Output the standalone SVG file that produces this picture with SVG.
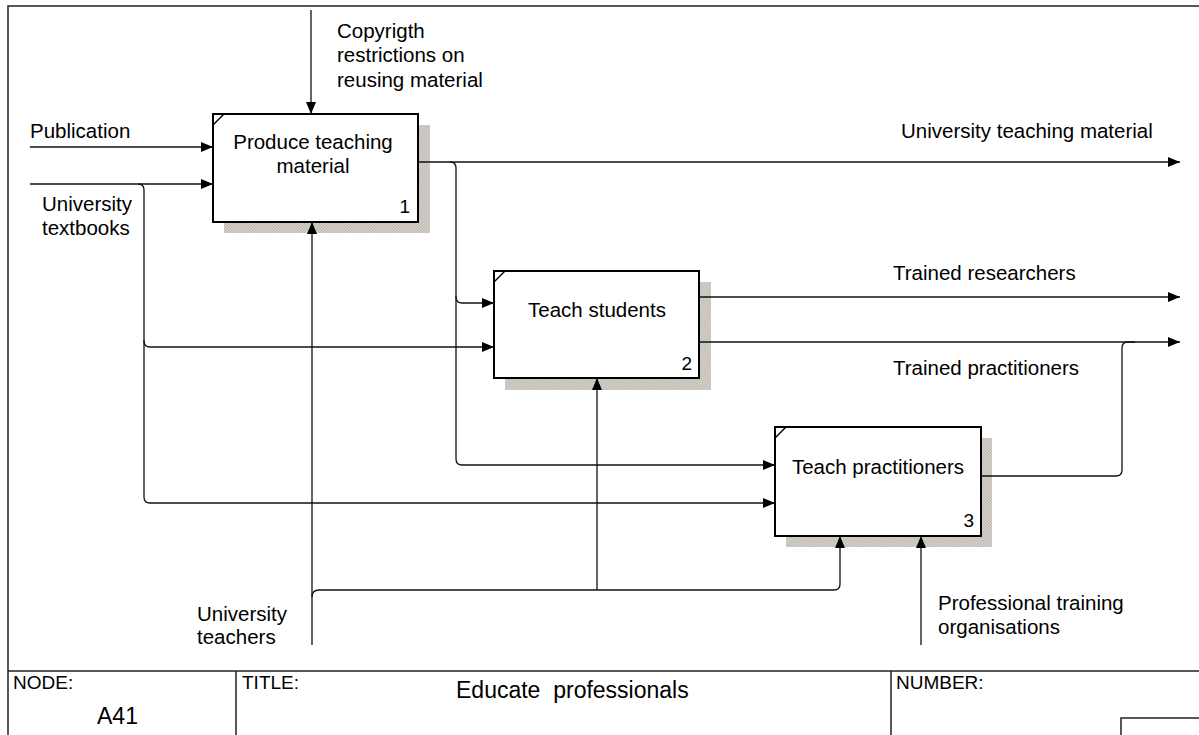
<svg xmlns="http://www.w3.org/2000/svg" width="1199" height="735" viewBox="0 0 1199 735">
<style>
text{font-family:"Liberation Sans",Arial,sans-serif;fill:#000}
.lbl{font-size:20.5px}
.ttl{font-size:20.5px}
.box{fill:#fff;stroke:#000;stroke-width:2}
.shadow{fill:url(#hatch)}
.con{fill:none;stroke:#111;stroke-width:1.3}
.frame{fill:none;stroke:#222;stroke-width:1.5}
.num{font-size:19px}
.foot{font-size:19px}
</style>
<defs>
<marker id="arr" viewBox="0 0 12 10" refX="12" refY="5" markerWidth="12" markerHeight="10" markerUnits="userSpaceOnUse" orient="auto">
<path d="M0,0 L12,5 L0,10 Z" fill="#000"/>
</marker>
<pattern id="hatch" width="3" height="3" patternUnits="userSpaceOnUse">
<rect width="3" height="3" fill="#d2cec7"/>
<path d="M0,3 L3,0" stroke="#b5b1aa" stroke-width="0.7"/>
</pattern>
</defs>
<rect width="1199" height="735" fill="#fff"/>
<g id="frame">
<path class="frame" d="M8,735 V6 H1199"/>
<path class="frame" d="M8,671 H1199 M236,671 V735 M891,671 V735 M1121,735 V718 H1199"/>
<text x="13" y="689" class="foot">NODE:</text>
<text x="97" y="724" style="font-size:23px">A41</text>
<text x="242" y="689" class="foot">TITLE:</text>
<text x="456" y="698" style="font-size:23px" xml:space="preserve">Educate  professionals</text>
<text x="896" y="689" class="foot">NUMBER:</text>
</g>
<g id="node1">
<rect class="shadow" x="224" y="125" width="206" height="108"/>
<rect class="box" x="213" y="114" width="205" height="108"/>
<path d="M213,125 L224,114" stroke="#000" stroke-width="1.5"/>
<text x="313" y="149" class="ttl" text-anchor="middle">Produce teaching</text>
<text x="313" y="173" class="ttl" text-anchor="middle">material</text>
<text x="410" y="213" class="num" text-anchor="end">1</text>
</g>
<g id="node2">
<rect class="shadow" x="505" y="282" width="206" height="108"/>
<rect class="box" x="494" y="271" width="205" height="107"/>
<path d="M494,282 L505,271" stroke="#000" stroke-width="1.5"/>
<text x="597" y="317" class="ttl" text-anchor="middle">Teach students</text>
<text x="692" y="370" class="num" text-anchor="end">2</text>
</g>
<g id="node3">
<rect class="shadow" x="786" y="438" width="206" height="109"/>
<rect class="box" x="775" y="427" width="206" height="109"/>
<path d="M775,438 L786,427" stroke="#000" stroke-width="1.5"/>
<text x="878" y="474" class="ttl" text-anchor="middle">Teach practitioners</text>
<text x="974" y="527" class="num" text-anchor="end">3</text>
</g>
<g id="connectors">
<path class="con" d="M30,147 H213" marker-end="url(#arr)"/>
<path class="con" d="M30,184 H213" marker-end="url(#arr)"/>
<path class="con" d="M138,184 Q144,184 144,190 V341 Q144,347 150,347 H494" marker-end="url(#arr)"/>
<path class="con" d="M144,340 V497 Q144,503 150,503 H775" marker-end="url(#arr)"/>
<path class="con" d="M311,10 V114" marker-end="url(#arr)"/>
<path class="con" d="M418,162 H1180" marker-end="url(#arr)"/>
<path class="con" d="M450,162 Q456,162 456,168 V297 Q456,303 462,303 H494" marker-end="url(#arr)"/>
<path class="con" d="M456,296 V459 Q456,465 462,465 H775" marker-end="url(#arr)"/>
<path class="con" d="M699,297 H1180" marker-end="url(#arr)"/>
<path class="con" d="M699,342 H1180" marker-end="url(#arr)"/>
<path class="con" d="M981,476 H1116 Q1122,476 1122,470 V348 Q1122,342 1128,342 H1135"/>
<path class="con" d="M312,645 V222" marker-end="url(#arr)"/>
<path class="con" d="M312,597 Q312,590 319,590 H834 Q840,590 840,584 V536" marker-end="url(#arr)"/>
<path class="con" d="M597,590 V378" marker-end="url(#arr)"/>
<path class="con" d="M921,645 V536" marker-end="url(#arr)"/>
<text x="30" y="138" class="lbl">Publication</text>
<text x="42" y="211" class="lbl">University</text>
<text x="42" y="235" class="lbl">textbooks</text>
<text x="337" y="38" class="lbl">Copyrigth</text>
<text x="337" y="62" class="lbl">restrictions on</text>
<text x="337" y="87" class="lbl">reusing material</text>
<text x="901" y="138" class="lbl">University teaching material</text>
<text x="893" y="280" class="lbl">Trained researchers</text>
<text x="893" y="375" class="lbl">Trained practitioners</text>
<text x="197" y="621" class="lbl">University</text>
<text x="197" y="644" class="lbl">teachers</text>
<text x="938" y="610" class="lbl">Professional training</text>
<text x="938" y="634" class="lbl">organisations</text>
</g>
</svg>
